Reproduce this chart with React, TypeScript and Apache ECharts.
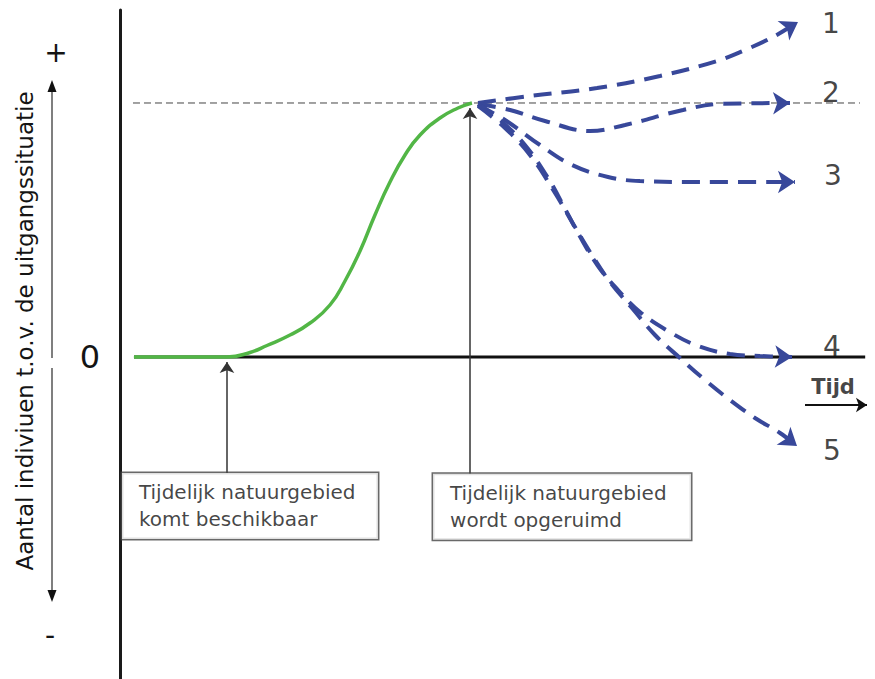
import React, { useEffect, useRef } from "react";
import * as echarts from "echarts";

const FONT = "DejaVu Sans";

// Growth curve on the temporary nature area (time, individuals relative to start)
const growthT = [1.85, 10.5, 14.17, 17.22, 19.47, 22.52, 25.17, 27.81, 29.8, 31.79, 33.77, 35.76, 37.75, 39.74, 42.38, 44.77, 46.62];
const growthN = [0, 0, 0, 1.77, 4.53, 8.66, 13.39, 20.47, 29.92, 41.73, 55.91, 68.9, 79.53, 87.4, 94.09, 98.03, 100];

// Scenarios after the area is cleared
const s1T = [47.42, 54.3, 63.18, 71.52, 79.07, 82.78, 86.49, 89.8];
const s1N = [100, 102.76, 105.91, 110.63, 116.54, 120.87, 125.98, 131.89];
const s2T = [47.42, 51.66, 56.29, 62.25, 66.89, 74.57, 79.47, 88.74];
const s2N = [99.61, 97.24, 92.91, 88.98, 91.34, 97.24, 99.61, 100];
const s3T = [47.42, 50.99, 55.63, 59.87, 64.64, 68.87, 76.82, 89.4];
const s3N = [99.21, 93.31, 83.46, 75.59, 70.87, 69.29, 68.9, 68.9];
const s4T = [47.42, 50.33, 53.64, 56.69, 58.68, 60.66, 63.31, 65.96, 68.87, 72.58, 76.56, 80.79, 84.77, 89.01];
const s4N = [99.61, 93.31, 83.46, 70.47, 59.84, 48.82, 35.83, 26.38, 17.72, 10.24, 4.33, 1.18, 0.39, 0];
const s5T = [47.42, 50.99, 54.3, 57.62, 59.87, 62.25, 64.9, 67.81, 70.86, 74.17, 77.48, 80.79, 84.11, 87.42, 89.67];
const s5N = [98.82, 90.16, 79.53, 64.57, 53.15, 41.34, 29.53, 19.29, 8.66, -0.39, -9.06, -16.93, -24.02, -29.92, -35.04];

const scenarioNames = ["1", "2", "3", "4", "5"];
const scenarioLabelT = [94.17, 94.17, 94.44, 94.3, 94.3];
const scenarioLabelN = [131.1, 104.3, 71.65, 3.94, -37.0];

// Reference level (plateau) and time axis extent
const plateauLevel = 100;
const plateauT = [1.72, 98.01];
const baselineEndT = 98.7;

// Events
const eventNames = ["Tijdelijk natuurgebied\nkomt beschikbaar", "Tijdelijk natuurgebied\nwordt opgeruimd"];
const eventT = [14.17, 46.36];
const eventTargetN = [-2, 98];
const eventArrowStartN = [-45.7, -46.1];
const eventBoxLeftT = [0.26, 41.46];
const eventBoxN = [-58.66, -59.0];
const eventBoxWidth = [222, 224];

const timeLabel = "Tijd";
const timeLabelPos = [94.44, -11.81];
const timeArrowT = [90.73, 98.94];
const timeArrowN = -18.9;

const Y_MIN = -126.77;
const Y_MAX = 136.61;

const BLUE = "#38489a";
const GREEN = "#52b646";
const INK = "#141414";

function zip(a: number[], b: number[]) {
  return a.map((v, i) => [v, b[i]]);
}

export default function App() {
  const ref = useRef<HTMLDivElement>(null);
  useEffect(() => {
    const chart = echarts.init(ref.current!, null, { renderer: "svg" });
    const scen = [
      [s1T, s1N],
      [s2T, s2N],
      [s3T, s3N],
      [s4T, s4N],
      [s5T, s5N],
    ];
    const scenarioSeries = scen.map(([t, n], i) => ({
      type: "line",
      name: "scenario " + scenarioNames[i],
      data: zip(t, n),
      smooth: 0.4,
      symbol: "none",
      z: 4,
      lineStyle: { color: BLUE, width: 4, type: [18, 10], cap: "butt" },
    }));
    const arrowData = scen.map(([t, n]) => ({
      coords: [
        [t[t.length - 2], n[n.length - 2]],
        [t[t.length - 1], n[n.length - 1]],
      ],
    }));

    const option: any = {
      animation: false,
      grid: { left: 120, right: 0, top: 10, bottom: 0 },
      xAxis: { type: "value", min: 0, max: 100, show: false },
      yAxis: {
        type: "value",
        min: Y_MIN,
        max: Y_MAX,
        splitLine: { show: false },
        axisTick: { show: false },
        axisLine: { show: true, onZero: false, lineStyle: { color: "#1a1a1a", width: 3 } },
        axisLabel: {
          show: true,
          customValues: [0],
          fontSize: 32,
          margin: 20,
          color: INK,
          fontFamily: FONT,
        },
      },
      graphic: [
        {
          type: "text",
          x: 25,
          y: 331,
          rotation: Math.PI / 2,
          style: {
            text: "Aantal indiviuen t.o.v. de uitgangssituatie",
            fontSize: 23,
            fontFamily: FONT,
            fill: INK,
            align: "center",
            verticalAlign: "middle",
          },
        },
        { type: "line", shape: { x1: 52, y1: 86, x2: 52, y2: 358 }, style: { stroke: "#555", lineWidth: 1.5 } },
        { type: "line", shape: { x1: 52, y1: 368, x2: 52, y2: 596 }, style: { stroke: "#555", lineWidth: 1.5 } },
        { type: "polygon", shape: { points: [[52, 80], [47.5, 92], [56.5, 92]] }, style: { fill: "#111" } },
        { type: "polygon", shape: { points: [[52, 602], [47.5, 590], [56.5, 590]] }, style: { fill: "#111" } },
        {
          type: "text",
          x: 56,
          y: 52,
          style: { text: "+", fontSize: 28, fontFamily: FONT, fill: INK, align: "center", verticalAlign: "middle" },
        },
        {
          type: "text",
          x: 50,
          y: 635,
          style: { text: "-", fontSize: 28, fontFamily: FONT, fill: INK, align: "center", verticalAlign: "middle" },
        },
      ],
      series: [
        {
          type: "line",
          name: "plateau",
          data: plateauT.map((t) => [t, plateauLevel]),
          symbol: "none",
          z: 2,
          lineStyle: { color: "#444", width: 1, type: [7, 4] },
        },
        {
          type: "line",
          name: "time axis",
          data: [
            [growthT[0], 0],
            [baselineEndT, 0],
          ],
          symbol: "none",
          z: 2,
          lineStyle: { color: "#111", width: 3 },
        },
        {
          type: "line",
          name: "growth",
          data: zip(growthT, growthN),
          smooth: 0.5,
          symbol: "none",
          z: 5,
          lineStyle: { color: GREEN, width: 3.5 },
        },
        ...scenarioSeries,
        {
          type: "lines",
          coordinateSystem: "cartesian2d",
          name: "scenario arrows",
          z: 6,
          symbol: ["none", "arrow"],
          symbolSize: [12, 17],
          lineStyle: { color: BLUE, width: 0, opacity: 1 },
          data: arrowData,
        },
        {
          type: "lines",
          coordinateSystem: "cartesian2d",
          name: "event arrows",
          z: 6,
          symbol: ["none", "arrow"],
          symbolSize: [8, 11],
          lineStyle: { color: "#333", width: 1.5, opacity: 1 },
          data: eventT.map((t, i) => ({
            coords: [
              [t, eventArrowStartN[i]],
              [t, eventTargetN[i]],
            ],
          })),
        },
        {
          type: "lines",
          coordinateSystem: "cartesian2d",
          name: "time arrow",
          z: 6,
          symbol: ["none", "arrow"],
          symbolSize: [8, 11],
          lineStyle: { color: "#111", width: 2, opacity: 1 },
          data: [
            {
              coords: [
                [timeArrowT[0], timeArrowN],
                [timeArrowT[1], timeArrowN],
              ],
            },
          ],
        },
        {
          type: "scatter",
          name: "scenario labels",
          symbolSize: 0,
          z: 7,
          data: scenarioNames.map((s, i) => ({ value: [scenarioLabelT[i], scenarioLabelN[i]], name: s })),
          label: {
            show: true,
            position: "inside",
            formatter: "{b}",
            fontSize: 28,
            fontFamily: FONT,
            color: INK,
          },
        },
        {
          type: "scatter",
          name: "time label",
          symbolSize: 0,
          z: 7,
          data: [{ value: timeLabelPos, name: timeLabel }],
          label: {
            show: true,
            position: "inside",
            formatter: "{b}",
            fontSize: 21,
            fontWeight: "bold",
            fontFamily: FONT,
            color: INK,
          },
        },
        {
          type: "scatter",
          name: "event boxes",
          symbolSize: 0,
          z: 8,
          data: eventNames.map((s, i) => ({
            value: [eventBoxLeftT[i], eventBoxN[i]],
            name: s,
            label: { width: eventBoxWidth[i] },
          })),
          label: {
            show: true,
            position: "right",
            distance: 0,
            align: "left",
            verticalAlign: "middle",
            formatter: "{b}",
            fontSize: 20,
            lineHeight: 27,
            fontFamily: FONT,
            color: INK,
            backgroundColor: "#fff",
            borderColor: "#444",
            borderWidth: 1.5,
            padding: [6, 17, 6, 17],
          },
        },
      ],
    };
    chart.setOption(option);
    return () => chart.dispose();
  }, []);
  return (
    <div
      ref={ref}
      style={{ position: "fixed", left: 0, top: 0, width: 875, height: 679, background: "#fff" }}
    />
  );
}
